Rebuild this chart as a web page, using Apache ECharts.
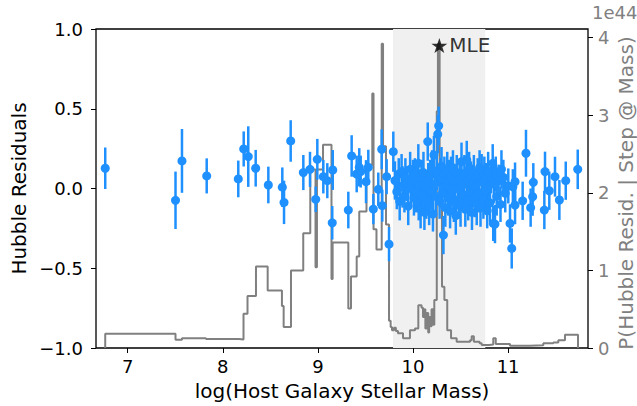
<!DOCTYPE html>
<html>
<head>
<meta charset="utf-8">
<script src="https://cdn.jsdelivr.net/npm/echarts@6/dist/echarts.min.js"></script>
<style>html,body{margin:0;padding:0;background:#fff;}#c{width:637px;height:406px;}</style>
</head>
<body>
<div id="c"></div>
<script>
// ---- data ----
const massX = [
  6.764, 7.503, 7.571, 7.831, 8.163, 8.220, 8.268, 8.346, 8.479, 8.626, 8.644, 8.714, 8.847, 8.917, 8.977, 8.994,
  9.057, 9.099, 9.151, 9.156, 9.320, 9.355, 9.408, 9.435, 9.450, 9.506, 9.530, 9.583, 9.635, 9.671, 9.677, 9.723,
  9.748, 9.793,
  9.81, 9.83, 9.85, 9.86, 9.88, 9.89, 9.91, 9.92, 9.94, 9.95, 9.97, 9.98, 10.00, 10.01, 10.02, 10.03, 10.04, 10.056,
  10.06, 10.07, 10.08, 10.09, 10.10, 10.11, 10.12, 10.13, 10.14, 10.155, 10.16, 10.17, 10.18, 10.19, 10.20, 10.21,
  10.22, 10.23, 10.24, 10.25, 10.26, 10.27, 10.28, 10.29, 10.30, 10.31, 10.32, 10.33, 10.34, 10.35, 10.36, 10.37,
  10.38, 10.39, 10.40, 10.41, 10.42, 10.43, 10.44, 10.45, 10.46, 10.47, 10.48, 10.49, 10.50, 10.51, 10.52, 10.53,
  10.54, 10.55, 10.565, 10.57, 10.58, 10.59, 10.60, 10.61, 10.62, 10.63, 10.64, 10.65, 10.66, 10.67, 10.68, 10.69,
  10.70, 10.71, 10.722, 10.73, 10.74, 10.75, 10.76, 10.77, 10.78, 10.79, 10.80, 10.81, 10.82, 10.838, 10.844, 10.85,
  10.862, 10.87, 10.88, 10.90, 10.92, 10.93, 10.95, 10.97,
  11.002, 11.020, 11.038, 11.050, 11.073, 11.073, 11.153, 11.188, 11.237, 11.258, 11.265, 11.381, 11.388, 11.433,
  11.493, 11.539, 11.606, 11.732
];
const resid = [
  0.127, -0.074, 0.173, 0.079, 0.060, 0.248, 0.200, 0.127, 0.022, 0.008, -0.087, 0.298, 0.100, 0.120, -0.068, 0.183,
  0.074, 0.049, -0.215, 0.116, -0.135, 0.204, 0.091, 0.133, 0.106, 0.043, 0.133, -0.129, -0.005, 0.246, -0.108, 0.074,
  -0.349, 0.231,
  0.05, -0.02, 0.09, -0.08, 0.106, 0.01, -0.05, 0.07, 0.03, -0.11, 0.12, 0.00, 0.06, -0.06, 0.09, -0.02, 0.04, 0.158,
  -0.09, 0.02, -0.13, 0.07, -0.04, 0.10, -0.15, 0.01, -0.07, 0.294, 0.05, -0.11, 0.08, -0.02, 0.12, -0.16,
  0.21, 0.03, -0.05, 0.10, 0.34, 0.393, -0.08, 0.06, 0.14, -0.03, -0.292, 0.09, -0.12, 0.02, 0.11, -0.06,
  0.05, -0.14, 0.08, -0.01, 0.13, -0.09, 0.04, -0.17, 0.10, 0.00, -0.07, 0.06, -0.11, 0.168, 0.02, -0.04,
  0.09, -0.13, 0.179, 0.05, -0.08, 0.12, -0.02, 0.07, -0.15, 0.03, 0.10, -0.06, 0.01, -0.10, 0.08, -0.03,
  0.13, -0.12, 0.106, 0.04, -0.07, 0.09, -0.01, 0.06, -0.14, 0.11, 0.02, -0.09, 0.07, 0.158, -0.219, 0.03,
  -0.223, 0.09, -0.05, 0.05, -0.10, 0.12, 0.07, -0.03,
  0.016, -0.219, -0.376, 0.011, 0.043, -0.104, -0.077, 0.221, -0.120, -0.051, 0.039, -0.135, 0.106, -0.014,
  0.074, -0.072, 0.049, 0.120
];
const residErr = [
  0.13, 0.18, 0.20, 0.11, 0.115, 0.11, 0.19, 0.115, 0.115, 0.124, 0.136, 0.13, 0.11, 0.11, 0.08, 0.128,
  0.105, 0.11, 0.105, 0.125, 0.115, 0.13, 0.115, 0.12, 0.10, 0.135, 0.11, 0.095, 0.105, 0.125, 0.10, 0.11,
  0.107, 0.126,
  0.12, 0.11, 0.10, 0.12, 0.11, 0.13, 0.10, 0.12, 0.11, 0.12, 0.11, 0.10, 0.12, 0.11, 0.10, 0.13, 0.11, 0.12,
  0.11, 0.10, 0.12, 0.11, 0.12, 0.13, 0.11, 0.10, 0.12, 0.12, 0.11, 0.12, 0.10, 0.11, 0.12, 0.11,
  0.12, 0.10, 0.12, 0.11, 0.12, 0.12, 0.11, 0.13, 0.12, 0.10, 0.12, 0.11, 0.12, 0.10, 0.12, 0.11,
  0.13, 0.11, 0.12, 0.10, 0.11, 0.12, 0.11, 0.12, 0.11, 0.10, 0.12, 0.11, 0.13, 0.12, 0.10, 0.11,
  0.12, 0.11, 0.12, 0.10, 0.12, 0.11, 0.12, 0.10, 0.11, 0.12, 0.11, 0.12, 0.10, 0.13, 0.11, 0.12,
  0.11, 0.12, 0.11, 0.10, 0.12, 0.11, 0.12, 0.10, 0.11, 0.12, 0.11, 0.12, 0.10, 0.12, 0.11, 0.12,
  0.12, 0.11, 0.12, 0.10, 0.11, 0.12, 0.11, 0.12,
  0.11, 0.12, 0.126, 0.11, 0.12, 0.12, 0.12, 0.147, 0.12, 0.12, 0.12, 0.12, 0.125, 0.12,
  0.125, 0.125, 0.12, 0.124
];
// posterior step curve (units of 1e44)
const stepX = [
  6.764, 6.764, 7.503, 7.571, 7.823, 8.170, 8.218, 8.260, 8.349, 8.472, 8.622, 8.640, 8.717, 8.846, 8.920, 8.975,
  8.990, 9.054, 9.143, 9.155, 9.320, 9.348, 9.408, 9.435, 9.511, 9.572, 9.585, 9.616, 9.671, 9.685, 9.716, 9.748,
  9.765, 9.779, 9.800, 9.820, 9.842, 9.895, 9.968, 10.021, 10.056, 10.090, 10.105, 10.120, 10.130, 10.145, 10.160,
  10.170, 10.185, 10.195, 10.210, 10.224, 10.250, 10.262, 10.280, 10.305, 10.330, 10.360, 10.400, 10.459, 10.600,
  10.617, 10.640, 10.700, 10.722, 10.800, 10.844, 10.870, 11.020, 11.230, 11.370, 11.475, 11.528, 11.598, 11.735
];
const stepP = [
  0, 0.185, 0.105, 0.125, 0.115, 0.11, 0.44, 0.67, 1.05, 0.74, 0.54, 0.27, 1.0, 1.48, 2.30, 1.04,
  2.30, 2.62, 0.89, 1.36, 0.51, 0.92, 1.18, 1.76, 2.36, 3.28, 1.53, 1.27, 3.92, 2.6, 1.59, 0.35,
  0.27, 0.23, 0.26, 0.22, 0.19, 0.125, 0.23, 0.25, 0.55, 0.52, 0.40, 0.50, 0.25, 0.45, 0.20,
  0.40, 0.28, 0.50, 0.30, 0.62, 3.05, 3.92, 1.82, 0.79, 0.62, 0.23, 0.125, 0.08, 0.10,
  0.15, 0.08, 0.06, 0.04, 0.045, 0.125, 0.05, 0.03, 0.035, 0.06, 0.07, 0.10, 0.17, 0
];
const bandRange = [9.79, 10.76];
const mlePoint = [10.277, 0.897];
const xTicks = [7, 8, 9, 10, 11];
const pTicks = [0, 1, 2, 3, 4];

// ---- chart ----
const FONT = 'DejaVu Sans';
const BLUE = '#1E90FF';
const GRAY = '#808080';
const chart = echarts.init(document.getElementById('c'), null, {renderer: 'svg'});

const errData = massX.map((x, i) => [x, resid[i], residErr[i]]);
const ptData = massX.map((x, i) => [x, resid[i]]);
const stepData = stepX.map((x, i) => [x, stepP[i]]);
const starPath = 'path://M0,-100L22.45,-30.9L95.1,-30.9L36.3,11.8L58.8,80.9L0,38.2L-58.8,80.9L-36.3,11.8L-95.1,-30.9L-22.45,-30.9Z';
const minus = v => (v < 0 ? '\u2212' : '') + Math.abs(v).toFixed(1);

chart.setOption({
  animation: false,
  backgroundColor: '#fff',
  grid: {left: 96, right: 49, top: 29, bottom: 58, show: true, borderColor: '#000', borderWidth: 1.3, backgroundColor: 'transparent'},
  xAxis: {
    type: 'value', min: 6.667, max: 11.84, position: 'bottom',
    axisLine: {show: false, onZero: false},
    splitLine: {show: false},
    axisTick: {show: true, length: 5, customValues: xTicks, lineStyle: {color: '#000', width: 1}},
    axisLabel: {customValues: xTicks, color: '#000', fontSize: 18, fontFamily: FONT, margin: 9}
  },
  yAxis: [
    {
      type: 'value', min: -1, max: 1, interval: 0.5, position: 'left',
      axisLine: {show: false, onZero: false}, splitLine: {show: false},
      axisTick: {show: true, length: 5, lineStyle: {color: '#000', width: 1}},
      axisLabel: {color: '#000', fontSize: 18, fontFamily: FONT, margin: 13, formatter: minus}
    },
    {
      type: 'value', min: 0, max: 4.11, position: 'right',
      axisLine: {show: false, onZero: false}, splitLine: {show: false},
      axisTick: {show: true, length: 5, customValues: pTicks, lineStyle: {color: '#000', width: 1}},
      axisLabel: {customValues: pTicks, color: GRAY, fontSize: 18, fontFamily: FONT, margin: 10}
    }
  ],
  series: [
    {
      type: 'line', xAxisIndex: 0, yAxisIndex: 1, data: [], silent: true, z: 1,
      markArea: {silent: true, itemStyle: {color: '#f0f0f0'}, data: [[{xAxis: bandRange[0]}, {xAxis: bandRange[1]}]]}
    },
    {
      type: 'line', xAxisIndex: 0, yAxisIndex: 1, step: 'end', data: stepData, showSymbol: false, z: 2,
      lineStyle: {color: GRAY, width: 2}, silent: true
    },
    {
      type: 'custom', xAxisIndex: 0, yAxisIndex: 0, data: errData, z: 3, silent: true,
      encode: {x: 0, y: 1},
      renderItem: function (params, api) {
        const x = api.value(0), y = api.value(1), e = api.value(2);
        const p1 = api.coord([x, y - e]);
        const p2 = api.coord([x, y + e]);
        return {type: 'line', shape: {x1: p1[0], y1: p1[1], x2: p2[0], y2: p2[1]}, style: {stroke: BLUE, lineWidth: 2.5}};
      }
    },
    {
      type: 'scatter', xAxisIndex: 0, yAxisIndex: 0, data: ptData, symbol: 'circle', symbolSize: 9, z: 4,
      itemStyle: {color: BLUE, opacity: 1}, silent: true
    },
    {
      type: 'scatter', xAxisIndex: 0, yAxisIndex: 0, data: [mlePoint], symbol: starPath, symbolSize: [16, 15], z: 5,
      itemStyle: {color: '#000'}, silent: true,
      label: {show: true, position: 'right', distance: 2, formatter: 'MLE', color: '#000', fontSize: 20, fontFamily: FONT}
    }
  ],
  graphic: [
    {type: 'text', x: 19, y: 188.5, rotation: Math.PI / 2, style: {text: 'Hubble Residuals', fontSize: 20, fontFamily: FONT, fill: '#000', align: 'center', verticalAlign: 'middle'}},
    {type: 'text', x: 342, y: 391, style: {text: 'log(Host Galaxy Stellar Mass)', fontSize: 20, fontFamily: FONT, fill: '#000', align: 'center', verticalAlign: 'middle'}},
    {type: 'text', x: 626, y: 193, rotation: Math.PI / 2, style: {text: 'P(Hubble Resid. | Step @ Mass)', fontSize: 20, fontFamily: FONT, fill: GRAY, align: 'center', verticalAlign: 'middle'}},
    {type: 'text', x: 592, y: 12, style: {text: '1e44', fontSize: 18, fontFamily: FONT, fill: GRAY, align: 'left', verticalAlign: 'middle'}}
  ]
});
</script>
</body>
</html>
